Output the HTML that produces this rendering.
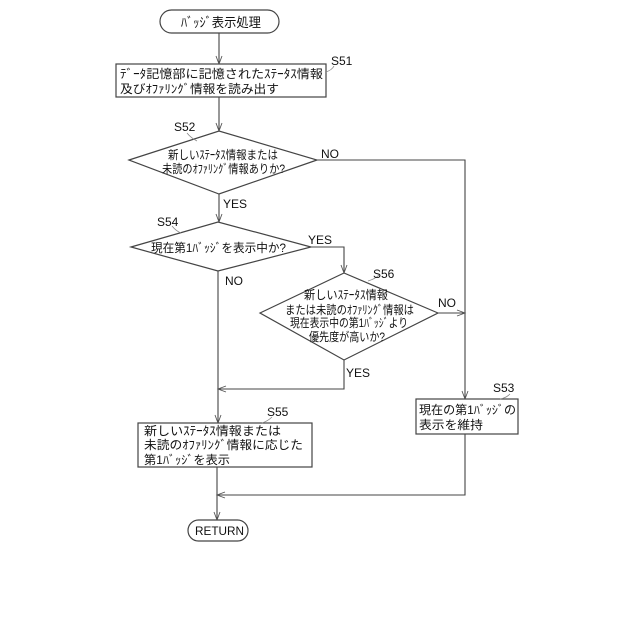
<!DOCTYPE html>
<html lang="ja"><head><meta charset="utf-8"><style>
html,body{margin:0;padding:0;background:#fff;width:640px;height:640px;overflow:hidden}
svg{display:block}
text{font-family:"Liberation Sans","Noto Sans CJK JP",sans-serif;fill:#111;font-size:12px}
.s{fill:none;stroke:#444;stroke-width:1.1}
.a{fill:none;stroke:#555;stroke-width:.9}
.b{fill:#fff;stroke:#444;stroke-width:1.2}
.l{font-size:12px}
.t{stroke:#888;stroke-width:.8;fill:none}
</style></head><body>
<svg width="640" height="640" viewBox="0 0 640 640" xmlns="http://www.w3.org/2000/svg">
<!-- connectors -->
<path class="s" d="M219 33V64M219 97V131M219 194V222M218 271V423M217 467V520M311 247H344V273M344 360V389H218M317 160H465V399M438 313H465M465 434V495H217"/>
<path class="a" d="M216 56L219 64L222 56M216 123L219 131L222 123M216 214L219 222L222 214M341 265L344 273L347 265M226 386L218 389L226 392M457 310L465 313L457 316M462 391L465 399L468 391M215 415L218 423L221 415M214 512L217 520L220 512M225 492L217 495L225 498"/>
<!-- shapes -->
<rect class="b" x="160" y="10" width="119" height="23" rx="11.5"/>
<rect class="b" x="116" y="64" width="210" height="33"/>
<polygon class="b" points="129,160 219,131 317,160 219,194"/>
<polygon class="b" points="131,247 218,222 311,247 218,271"/>
<polygon class="b" points="260,313 344,273 438,313 344,360"/>
<rect class="b" x="416" y="399" width="102" height="35"/>
<rect class="b" x="138" y="423" width="174" height="44"/>
<rect class="b" x="188" y="520" width="60" height="21" rx="10.5"/>
<!-- step ticks -->
<path class="t" d="M326 72Q332 70 334 66M187 133Q191 138 197 141M172 226Q176 231 181 233M368 281Q375 279 379 275M500 399Q506 398 510 394M262 423Q268 421 272 417"/>
<!-- text -->
<text x="181" y="27" textLength="80" lengthAdjust="spacingAndGlyphs" style="font-size:13px">ﾊﾞｯｼﾞ表示処理</text>
<text x="120" y="78" textLength="203" lengthAdjust="spacingAndGlyphs">ﾃﾞｰﾀ記憶部に記憶されたｽﾃｰﾀｽ情報</text>
<text x="120" y="93" textLength="159" lengthAdjust="spacingAndGlyphs">及びｵﾌｧﾘﾝｸﾞ情報を読み出す</text>
<text x="168" y="159" textLength="110" lengthAdjust="spacingAndGlyphs">新しいｽﾃｰﾀｽ情報または</text>
<text x="162" y="173" textLength="123" lengthAdjust="spacingAndGlyphs">未読のｵﾌｧﾘﾝｸﾞ情報ありか?</text>
<text x="151" y="252" textLength="135" lengthAdjust="spacingAndGlyphs">現在第1ﾊﾞｯｼﾞを表示中か?</text>
<text x="304" y="299" textLength="84" lengthAdjust="spacingAndGlyphs">新しいｽﾃｰﾀｽ情報</text>
<text x="285" y="314" textLength="129" lengthAdjust="spacingAndGlyphs">または未読のｵﾌｧﾘﾝｸﾞ情報は</text>
<text x="290" y="327" textLength="118" lengthAdjust="spacingAndGlyphs">現在表示中の第1ﾊﾞｯｼﾞより</text>
<text x="309" y="341" textLength="76" lengthAdjust="spacingAndGlyphs">優先度が高いか?</text>
<text x="419" y="414" textLength="97" lengthAdjust="spacingAndGlyphs">現在の第1ﾊﾞｯｼﾞの</text>
<text x="419" y="429" textLength="64" lengthAdjust="spacingAndGlyphs">表示を維持</text>
<text x="144" y="435" textLength="137" lengthAdjust="spacingAndGlyphs">新しいｽﾃｰﾀｽ情報または</text>
<text x="144" y="449" textLength="159" lengthAdjust="spacingAndGlyphs">未読のｵﾌｧﾘﾝｸﾞ情報に応じた</text>
<text x="144" y="464" textLength="86" lengthAdjust="spacingAndGlyphs">第1ﾊﾞｯｼﾞを表示</text>
<text x="195" y="535" textLength="49" lengthAdjust="spacingAndGlyphs">RETURN</text>
<text class="l" x="331" y="65">S51</text>
<text class="l" x="174" y="131">S52</text>
<text class="l" x="157" y="226">S54</text>
<text class="l" x="373" y="278">S56</text>
<text class="l" x="493" y="392">S53</text>
<text class="l" x="267" y="416">S55</text>
<text class="l" x="321" y="158">NO</text>
<text class="l" x="223" y="208">YES</text>
<text class="l" x="308" y="244">YES</text>
<text class="l" x="225" y="285">NO</text>
<text class="l" x="438" y="307">NO</text>
<text class="l" x="346" y="377">YES</text>
</svg>
</body></html>
